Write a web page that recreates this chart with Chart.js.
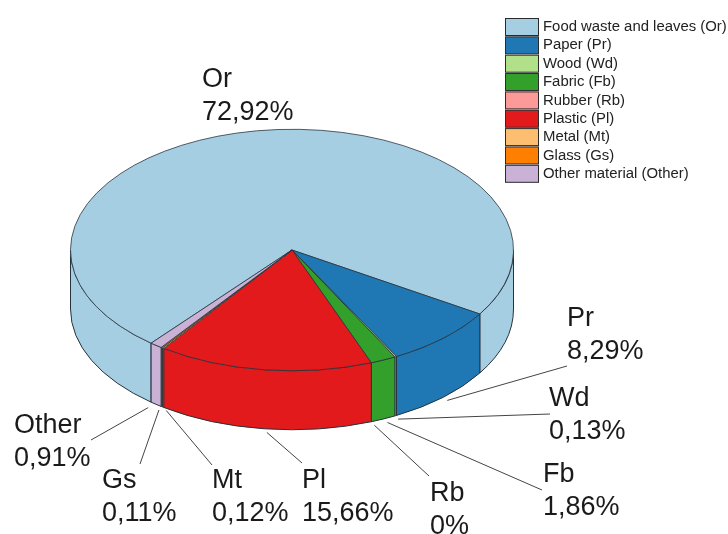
<!DOCTYPE html>
<html>
<head>
<meta charset="utf-8">
<title>Waste composition</title>
<style>
body { margin: 0; background: #fff; }
canvas { display: block; }
</style>
<script src="https://cdn.jsdelivr.net/npm/chart.js@4"></script>
</head>
<body>
<canvas id="myChart" width="728" height="534"></canvas>
<script>
// 데이터
const categories = ['Food waste and leaves (Or)', 'Paper (Pr)', 'Wood (Wd)', 'Fabric (Fb)', 'Rubber (Rb)', 'Plastic (Pl)', 'Metal (Mt)', 'Glass (Gs)', 'Other material (Other)'];
const codes = ['Or', 'Pr', 'Wd', 'Fb', 'Rb', 'Pl', 'Mt', 'Gs', 'Other'];
const values = [72.92, 8.29, 0.13, 1.86, 0, 15.66, 0.12, 0.11, 0.91];
const colors = ['#a6cee3', '#1f78b4', '#b2df8a', '#33a02c', '#fb9a99', '#e31a1c', '#fdbf6f', '#ff7f00', '#cab2d6'];

// 라벨 위치
const labelX = [202, 567, 549, 543, 430, 302, 212, 102, 14];
const labelY = [87, 326, 406, 482, 501, 488, 488, 488, 433];
const leaderEndX = [null, 567, 550, 542, 429, 302, 212, 140, 91];
const leaderEndY = [null, 366, 414, 490, 476, 463, 465, 464, 440];
const leaderNudgeX = [0, 2, 1, 3, 2, 3, 5, -1, -6];

const squash = 121 / 222;
const depth = 59;
const lineColor = '#26323c';

function valueText(v) {
	return v === 0 ? '0%' : v.toFixed(2).replace('.', ',') + '%';
}

// 옆면 (앞쪽 반원만)
function drawWall(ctx, arc, color) {
	const rx = arc.outerRadius, ry = rx * squash;
	for (let k = -1; k <= 1; k++) {
		const a0 = Math.max(arc.startAngle + k * 2 * Math.PI, 0);
		const a1 = Math.min(arc.endAngle + k * 2 * Math.PI, Math.PI);
		if (a1 <= a0) continue;
		ctx.beginPath();
		ctx.ellipse(arc.x, arc.y, rx, ry, 0, a0, a1);
		ctx.ellipse(arc.x, arc.y + depth, rx, ry, 0, a1, a0, true);
		ctx.closePath();
		ctx.fillStyle = color;
		ctx.fill();
		ctx.strokeStyle = lineColor;
		ctx.lineWidth = 1;
		ctx.stroke();
	}
}

const pie3d = {
	id: 'pie3d',
	beforeDatasetsDraw(chart) {
		const ctx = chart.ctx;
		const arcs = chart.getDatasetMeta(0).data;
		arcs.forEach((arc, i) => drawWall(ctx, arc, colors[i]));
		// 윗면은 타원으로 눌러서 그림
		const cy = arcs[0].y;
		ctx.save();
		ctx.translate(0, cy);
		ctx.scale(1, squash);
		ctx.translate(0, -cy);
	},
	afterDatasetsDraw(chart) {
		const ctx = chart.ctx;
		ctx.restore();
		const arcs = chart.getDatasetMeta(0).data;

		// 지시선 + 라벨
		ctx.font = '27px "Liberation Sans"';
		ctx.textAlign = 'left';
		ctx.textBaseline = 'alphabetic';
		arcs.forEach((arc, i) => {
			if (leaderEndX[i] !== null) {
				const mid = (arc.startAngle + arc.endAngle) / 2;
				const sx = arc.x + (arc.outerRadius + 3) * Math.cos(mid) + leaderNudgeX[i];
				const sy = arc.y + (arc.outerRadius + 3) * squash * Math.sin(mid) + depth + 2;
				ctx.beginPath();
				ctx.moveTo(sx, sy);
				ctx.lineTo(leaderEndX[i], leaderEndY[i]);
				ctx.strokeStyle = '#444';
				ctx.lineWidth = 1;
				ctx.stroke();
			}
			ctx.fillStyle = '#1a1a1a';
			ctx.fillText(codes[i], labelX[i], labelY[i]);
			ctx.fillText(valueText(values[i]), labelX[i], labelY[i] + 33);
		});

		// 범례
		ctx.font = '14.9px "Liberation Sans"';
		ctx.textBaseline = 'middle';
		categories.forEach((name, i) => {
			const y = 18 + i * 18.35;
			ctx.fillStyle = colors[i];
			ctx.fillRect(505.5, y + 0.5, 33, 17);
			ctx.strokeStyle = '#2a2a2a';
			ctx.strokeRect(505.5, y + 0.5, 33, 17);
			ctx.fillStyle = '#222';
			ctx.fillText(name, 543, y + 9);
		});
	}
};

new Chart(document.getElementById('myChart').getContext('2d'), {
	type: 'pie',
	data: {
		labels: categories,
		datasets: [{
			data: values,
			backgroundColor: colors,
			borderColor: lineColor,
			borderWidth: 1,
			clip: false
		}]
	},
	options: {
		responsive: false,
		animation: false,
		rotation: -140.5,
		layout: { padding: { left: 70, right: 214, top: 28, bottom: 62 } },
		plugins: {
			legend: { display: false },
			tooltip: { enabled: false }
		}
	},
	plugins: [pie3d]
});
</script>
</body>
</html>
